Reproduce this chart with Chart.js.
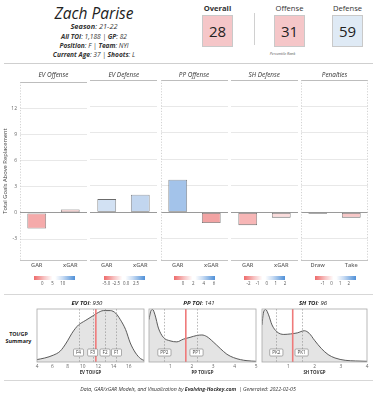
<!DOCTYPE html>
<html><head><meta charset="utf-8">
<script src="https://cdn.jsdelivr.net/npm/chart.js@4.4.1/dist/chart.umd.min.js"></script>
<style>
body{margin:0;background:#fff;font-family:'Open Sans',sans-serif;color:#222;}
#root{position:relative;width:376px;height:400px;overflow:hidden;background:#fff;}
.t{position:absolute;white-space:nowrap;transform:translate(-50%,-50%);line-height:1.2;}
.r{position:absolute;}
canvas{position:absolute;}
</style></head><body><div id="root"></div>
<script>
// ---------- DATA ----------
const playerName = 'Zach Parise';
const season = '21-22';
const allTOI = '1,188';
const gamesPlayed = '82';
const playerPosition = 'F';
const team = 'NYI';
const currentAge = '37';
const shoots = 'L';
const rankLabels = ['Overall', 'Offense', 'Defense'];
const rankValues = [28, 31, 59];

const panelTitles = ['EV Offense', 'EV Defense', 'PP Offense', 'SH Defense', 'Penalties'];
const panelCategories = [['GAR','xGAR'], ['GAR','xGAR'], ['GAR','xGAR'], ['GAR','xGAR'], ['Draw','Take']];
const panelValues = [[-1.8, 0.4], [1.5, 2.0], [3.7, -1.2], [-1.45, -0.6], [-0.15, -0.6]];
const yTickValues = [-3, 0, 3, 6, 9, 12];
const yRange = [-5.4, 15];

const legendDomains = [[-4.2, 15.7], [-5.66, 4.7], [-1.76, 6.2], [-2.47, 2.03], [-1.96, 2.77]];
const legendTicks = [[0, 5, 10], [-5.0, -2.5, 0.0, 2.5], [0, 2, 4, 6], [-2, -1, 0, 1, 2], [-1, 0, 1, 2]];
const legendTickLabels = [['0','5','10'], ['-5.0','-2.5','0.0','2.5'], ['0','2','4','6'], ['-2','-1','0','1','2'], ['-1','0','1','2']];

const toiTitles = ['EV TOI', 'PP TOI', 'SH TOI'];
const toiTotals = ['930', '141', '96'];
const toiAxisTitles = ['EV TOI/GP', 'PP TOI/GP', 'SH TOI/GP'];
const toiRanges = [[4, 18], [0, 5], [0, 4]];
const toiTickValues = [[4, 6, 8, 10, 12, 14, 16], [1, 2, 3, 4, 5], [1, 2, 3, 4]];

const evX = [3.96, 5.0, 6.15, 7.0, 7.46, 8.0, 8.56, 9.0, 9.44, 10.3, 11.2, 11.85, 12.7, 13.6, 14.3, 14.9, 15.6, 16.2, 16.9, 17.55, 18.0];
const evDensity = [0.045, 0.075, 0.13, 0.2, 0.28, 0.40, 0.54, 0.63, 0.70, 0.78, 0.86, 0.92, 0.97, 0.97, 0.92, 0.80, 0.61, 0.36, 0.17, 0.064, 0.03];
const ppX = [0, 0.08, 0.17, 0.28, 0.44, 0.67, 0.98, 1.3, 1.6, 1.92, 2.23, 2.47, 2.7, 3.0, 3.33, 3.64, 3.95, 4.27, 4.58, 5.0];
const ppDensity = [0.80, 0.955, 0.99, 0.89, 0.64, 0.465, 0.40, 0.38, 0.43, 0.465, 0.50, 0.51, 0.48, 0.38, 0.255, 0.146, 0.083, 0.045, 0.025, 0.013];
const shX = [0, 0.05, 0.14, 0.25, 0.38, 0.57, 0.83, 1.09, 1.35, 1.61, 1.8, 2.0, 2.26, 2.52, 2.78, 3.17, 3.56, 4.0];
const shDensity = [0.70, 0.92, 0.99, 0.89, 0.70, 0.57, 0.52, 0.53, 0.55, 0.59, 0.54, 0.41, 0.255, 0.14, 0.076, 0.032, 0.02, 0.013];

const evMarkerLabels = ['F4', 'F3', 'F2', 'F1'];
const evMarkers = [9.43, 11.28, 12.9, 14.4];
const ppMarkerLabels = ['PP2', 'PP1'];
const ppMarkers = [0.72, 2.22];
const shMarkerLabels = ['PK2', 'PK1'];
const shMarkers = [0.545, 1.51];
const playerTOIperGP = [11.7, 1.72, 1.17];

const footerDate = '2022-02-05';

// ---------- STYLES ----------
const barFill = [['#f5aaaa', '#f8cfcf'], ['#d2e1f3', '#c2d6ef'], ['#a3c3ea', '#f2a3a3'], ['#f7b6b6', '#fbdcdc'], ['#e9e3e3', '#f8c7c7']];
const rankFill = ['#f5c6c8', '#f5c6c8', '#dfeaf5'];
const FONT = "'Open Sans', sans-serif";

const root = document.getElementById('root');
function txt(html, cx, cy, css) {
  const d = document.createElement('div');
  d.className = 't';
  d.style.left = cx + 'px'; d.style.top = cy + 'px';
  d.style.cssText += css || '';
  d.innerHTML = html;
  root.appendChild(d);
  return d;
}
function rect(x, y, w, h, css) {
  const d = document.createElement('div');
  d.className = 'r';
  d.style.left = x + 'px'; d.style.top = y + 'px'; d.style.width = w + 'px'; d.style.height = h + 'px';
  d.style.cssText += css || '';
  root.appendChild(d);
  return d;
}

// ---------- HEADER ----------
txt(playerName, 94, 12.5, 'font-size:15.5px;font-style:italic;color:#222;');
const hl = 'font-size:6.6px;font-style:italic;color:#333;';
txt('<b>Season</b>: ' + season, 94, 25.5, hl + 'font-size:7.4px;');
txt('<b>All TOI</b>: ' + allTOI + ' | <b>GP</b>: ' + gamesPlayed, 94, 36.5, hl);
txt('<b>Position</b>: ' + playerPosition + ' | <b>Team</b>: ' + team, 94, 45.5, hl);
txt('<b>Current Age</b>: ' + currentAge + ' | <b>Shoots</b>: ' + shoots, 94, 54.5, hl);

const rankCx = [217.5, 289.5, 347.5];
rankLabels.forEach((l, i) => {
  txt(l, rankCx[i], 8.5, 'font-size:7.6px;color:#333;' + (i === 0 ? 'font-weight:700;' : ''));
  rect(rankCx[i] - 15.5, 15, 31, 31.5, 'background:' + rankFill[i] + ';border:1px solid #c9c9c9;box-sizing:border-box;');
  txt(String(rankValues[i]), rankCx[i], 31, 'font-size:15px;color:#222;');
});
rect(253.5, 13, 1, 32, 'background:#d0d0d0;');
txt('Percentile Rank', 282.5, 53.5, 'font-size:3.8px;font-style:italic;color:#555;');
rect(4, 63, 369, 1, 'background:#cfcfcf;');

// ---------- BAR PANELS ----------
const panelLeft = [20, 90.25, 160.5, 230.75, 301];
const panelW = 67;
const plotTop = 80, plotBottom = 260;
const dotted = [{left:true}, {}, {left:true}, {}, {left:true, right:true}];

const panelDeco = {
  id: 'panelDeco',
  beforeDatasetsDraw(chart, args, o) {
    const {ctx, chartArea: a} = chart;
    ctx.save();
    ctx.strokeStyle = '#bdbdbd'; ctx.lineWidth = 1;
    ctx.beginPath(); ctx.moveTo(a.left, Math.round(a.top) + 0.5); ctx.lineTo(a.right, Math.round(a.top) + 0.5); ctx.stroke();
    ctx.setLineDash([1.2, 1.6]); ctx.strokeStyle = '#c8c8c8'; ctx.lineWidth = 0.8;
    if (o.left) { ctx.beginPath(); ctx.moveTo(a.left + 0.5, a.top); ctx.lineTo(a.left + 0.5, a.bottom); ctx.stroke(); }
    if (o.right) { ctx.beginPath(); ctx.moveTo(a.right - 0.5, a.top); ctx.lineTo(a.right - 0.5, a.bottom); ctx.stroke(); }
    ctx.restore();
  }
};

panelTitles.forEach((title, i) => {
  const first = i === 0;
  const yAxisW = first ? 20 : 0;
  const cv = document.createElement('canvas');
  const cLeft = panelLeft[i] - yAxisW;
  const cTop = plotTop - 4;
  const w = panelW + yAxisW, h = (plotBottom + 14) - cTop;
  cv.width = w; cv.height = h;
  cv.style.left = cLeft + 'px'; cv.style.top = cTop + 'px';
  cv.style.width = w + 'px'; cv.style.height = h + 'px';
  root.appendChild(cv);
  txt(title, panelLeft[i] + panelW / 2, 74.5, 'font-size:6.4px;font-style:italic;color:#333;');

  new Chart(cv, {
    type: 'bar',
    data: {
      labels: panelCategories[i],
      datasets: [{
        data: panelValues[i],
        backgroundColor: barFill[i],
        borderColor: '#6b6b6b',
        borderWidth: 0.8,
        borderSkipped: false,
        categoryPercentage: 1,
        barPercentage: 0.56
      }]
    },
    plugins: [panelDeco],
    options: {
      responsive: false, animation: false, devicePixelRatio: 1,
      layout: {padding: {top: 4, left: 0, right: 0, bottom: 0}},
      plugins: {legend: {display: false}, tooltip: {enabled: false}, panelDeco: dotted[i]},
      scales: {
        x: {
          grid: {display: false, drawTicks: false},
          border: {display: true, color: '#c4c4c4'},
          ticks: {color: '#666', font: {family: FONT, size: 5.6, weight: '600'}, padding: 2, maxRotation: 0},
          afterFit: s => { s.height = 14; }
        },
        y: {
          min: yRange[0], max: yRange[1],
          afterBuildTicks: s => { s.ticks = yTickValues.map(v => ({value: v})); },
          afterFit: s => { s.width = yAxisW; },
          border: {display: false},
          grid: {
            drawTicks: false,
            color: c => (c.tick && c.tick.value === 0) ? '#9a9a9a' : '#e8e8e8',
            lineWidth: 1
          },
          ticks: {display: first, color: '#666', font: {family: FONT, size: 5}, padding: 3},
          title: {display: first, text: 'Total Goals Above Replacement', color: '#444', font: {family: FONT, size: 5.8}, padding: {top: 2, bottom: 0}}
        }
      }
    }
  });

  // colour legend
  const [dmin, dmax] = legendDomains[i];
  const barL = panelLeft[i] + 13.5, barW = 41;
  rect(barL, 276, barW, 4, 'background:linear-gradient(to right,#ee6b6b 0%,#f7c4c4 25%,#ffffff 45%,#ffffff 52%,#c9dcf3 70%,#4f90d8 100%);');
  legendTicks[i].forEach((v, k) => {
    const px = barL + (v - dmin) / (dmax - dmin) * barW;
    txt(legendTickLabels[i][k], px, 284, 'font-size:4.4px;color:#555;');
  });
});

// ---------- TOI SUMMARY ----------
rect(4, 293.5, 369, 1, 'background:#d7d7d7;');
txt('<b>TOI/GP</b>', 18.5, 333.5, 'font-size:5.4px;color:#222;');
txt('<b>Summary</b>', 18.5, 340.5, 'font-size:5.4px;color:#222;');

const densArea = [[37, 144], [149, 256], [262, 367]];
const densData = [[evX, evDensity], [ppX, ppDensity], [shX, shDensity]];
const densMarkers = [[evMarkers, evMarkerLabels], [ppMarkers, ppMarkerLabels], [shMarkers, shMarkerLabels]];
const titleCx = [87, 199, 313];

const densDeco = {
  id: 'densDeco',
  afterDatasetsDraw(chart, args, o) {
    const {ctx, chartArea: a, scales: {x}} = chart;
    ctx.save();
    ctx.setLineDash([1.6, 1.6]); ctx.strokeStyle = '#8a8a8a'; ctx.lineWidth = 0.6;
    o.markers.forEach(v => {
      const px = Math.round(x.getPixelForValue(v)) + 0.5;
      ctx.beginPath(); ctx.moveTo(px, a.top); ctx.lineTo(px, a.bottom); ctx.stroke();
    });
    ctx.setLineDash([]);
    const pp = x.getPixelForValue(o.player);
    ctx.strokeStyle = '#ef7a7a'; ctx.lineWidth = 1.6;
    ctx.beginPath(); ctx.moveTo(pp, a.top); ctx.lineTo(pp, a.bottom); ctx.stroke();
    ctx.font = "4.6px " + FONT;
    ctx.textAlign = 'center'; ctx.textBaseline = 'middle';
    o.markers.forEach((v, k) => {
      const px = x.getPixelForValue(v);
      const lab = o.labels[k];
      const bw = Math.max(10, ctx.measureText(lab).width + 5), bh = 7;
      const by = a.bottom - 9.5;
      ctx.fillStyle = '#fff'; ctx.strokeStyle = '#7a7a7a'; ctx.lineWidth = 0.6;
      ctx.beginPath();
      if (ctx.roundRect) ctx.roundRect(px - bw / 2, by - bh / 2, bw, bh, 1); else ctx.rect(px - bw / 2, by - bh / 2, bw, bh);
      ctx.fill(); ctx.stroke();
      ctx.fillStyle = '#444';
      ctx.fillText(lab, px, by + 0.3);
    });
    ctx.strokeStyle = '#a8a8a8'; ctx.lineWidth = 0.8;
    ctx.strokeRect(a.left, a.top, a.right - a.left, a.bottom - a.top);
    ctx.restore();
  }
};

toiTitles.forEach((t, i) => {
  const [aL, aR] = densArea[i];
  const pad = 6;
  const cTop = 305, h = 70;
  const w = aR - aL + 2 * pad;
  const cv = document.createElement('canvas');
  cv.width = w; cv.height = h;
  cv.style.left = (aL - pad) + 'px'; cv.style.top = cTop + 'px';
  cv.style.width = w + 'px'; cv.style.height = h + 'px';
  root.appendChild(cv);
  txt('<b>' + t + '</b>: ' + toiTotals[i], titleCx[i], 303.5, 'font-size:6px;font-style:italic;color:#222;');

  const [xs, ys] = densData[i];
  new Chart(cv, {
    type: 'line',
    data: {
      datasets: [{
        data: xs.map((v, k) => ({x: v, y: ys[k]})),
        borderColor: '#4a4a4a', borderWidth: 0.9,
        backgroundColor: '#e4e4e4', fill: 'origin',
        pointRadius: 0, tension: 0.4, cubicInterpolationMode: 'monotone'
      }]
    },
    plugins: [densDeco],
    options: {
      responsive: false, animation: false, devicePixelRatio: 1,
      layout: {padding: {top: 4, left: pad, right: pad, bottom: 0}},
      plugins: {legend: {display: false}, tooltip: {enabled: false},
        densDeco: {markers: densMarkers[i][0], labels: densMarkers[i][1], player: playerTOIperGP[i]}},
      scales: {
        x: {
          type: 'linear', min: toiRanges[i][0], max: toiRanges[i][1],
          afterBuildTicks: s => { s.ticks = toiTickValues[i].map(v => ({value: v})); },
          afterFit: s => { s.height = 13; },
          grid: {display: false, drawTicks: false},
          border: {display: false},
          ticks: {color: '#666', font: {family: FONT, size: 4.8}, padding: 2, maxRotation: 0, autoSkip: false},
          title: {display: true, text: toiAxisTitles[i], color: '#333', font: {family: FONT, size: 4.4, weight: '700'}, padding: {top: 0, bottom: 0}}
        },
        y: {display: false, min: 0, max: 1.0}
      }
    }
  });
});

// ---------- FOOTER ----------
rect(4, 380, 369, 1, 'background:#d7d7d7;');
txt('Data, GAR/xGAR Models, and Visualization by <b>Evolving-Hockey.com</b> &nbsp;| Generated: ' + footerDate, 188, 389, 'font-size:5.2px;font-style:italic;color:#333;');
</script></body></html>
